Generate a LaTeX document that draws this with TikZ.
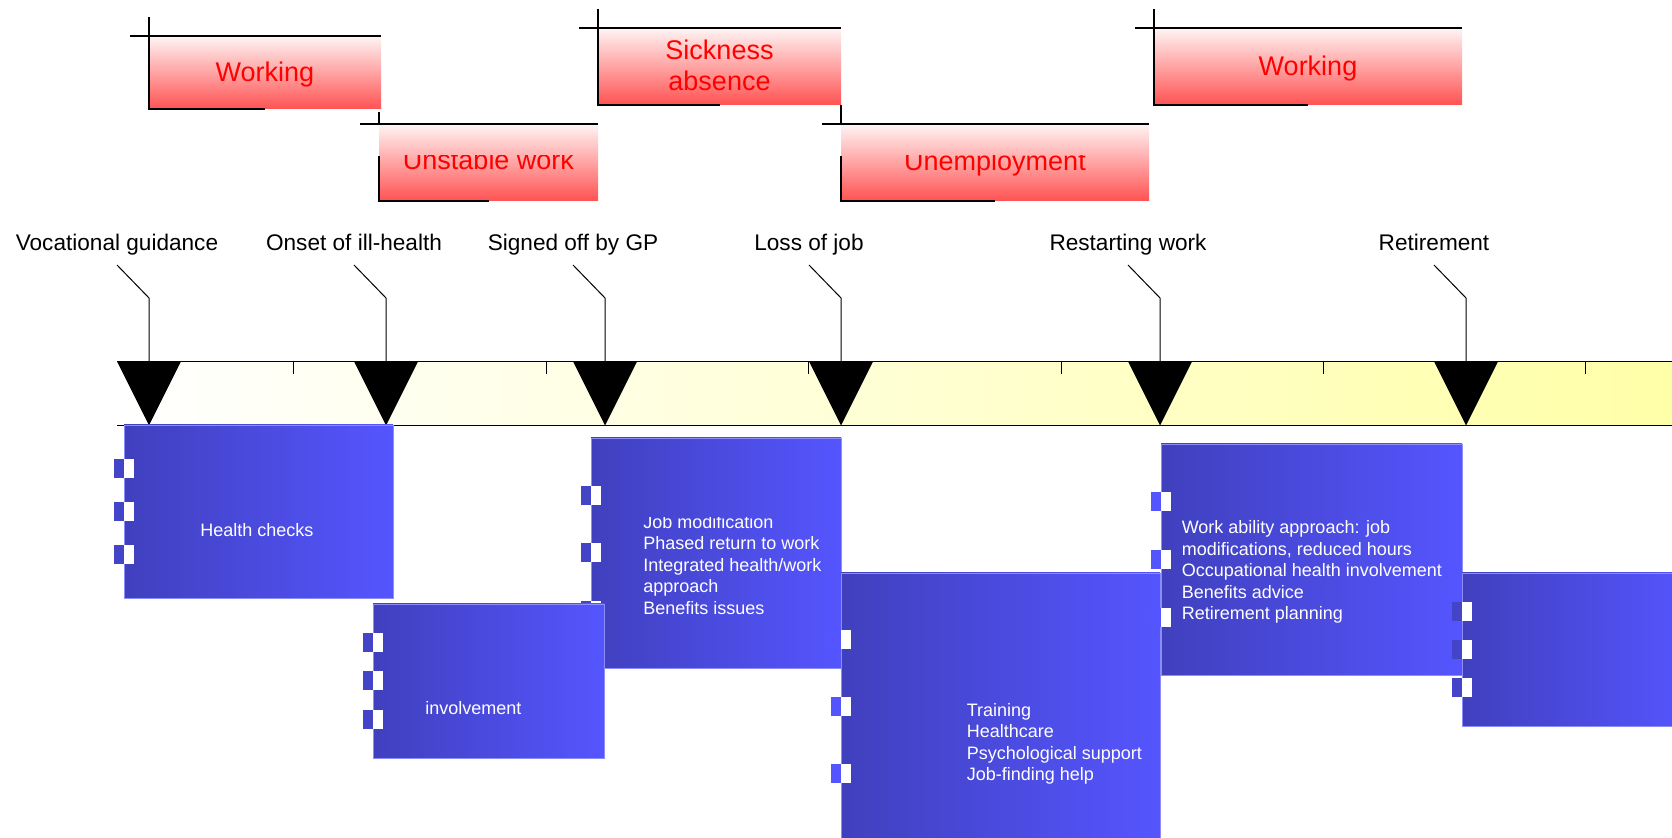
\documentclass[tikz,border=0pt]{standalone}
\usepackage{fontspec}
\setmainfont{Liberation Sans}
\definecolor{pinktop}{RGB}{255,244,244}
\definecolor{pinkbot}{RGB}{255,82,82}
\definecolor{bluel}{RGB}{64,64,190}
\definecolor{bluer}{RGB}{85,85,255}
\definecolor{tabdark}{RGB}{68,68,200}
\definecolor{boxedge}{RGB}{140,140,250}
\definecolor{bandend}{RGB}{255,255,168}

% red phase bar: x1, y1, x2, y2, top of the tick, start of the left rule
\newcommand\phasebox[6]{%
  \shade[top color=pinktop,bottom color=pinkbot] (#1,#2) rectangle (#3,#4);
  \draw[line width=0.75pt] (#1-19,#2) -- (#3,#2);
  \draw[line width=1pt] (#1,#5) -- (#1,#2);
  \draw[line width=1pt] (#1,#6) -- (#1,#4) -- ({(#1+#3)/2},#4);
}
% blue help panel with three tabs on its left side: x1, y1, x2, y2, tab colour
\newcommand\aidbox[5]{%
  \shadedraw[left color=bluel,right color=bluer,draw=boxedge,line width=0.4pt] (#1,#2) rectangle (#3,#4);
  \foreach \k in {1,2,3}{%
    \pgfmathsetmacro\yc{#2+\k*(#4-#2)/4}
    \fill[#5] (#1-10,\yc-9.5) rectangle (#1,\yc+9.5);
    \fill[white] (#1,\yc-9.5) rectangle (#1+9.5,\yc+9.5);
  }%
}

\begin{document}
\begin{tikzpicture}[x=0.5pt,y=-0.5pt,
  evlabel/.style={font=\fontsize{11.3}{13.5}\selectfont,inner sep=0pt,anchor=base},
  phasetext/.style={font=\fontsize{13.5}{15.7}\selectfont,text=red,align=center,inner sep=0pt},
  helptext/.style={font=\fontsize{9}{10.75}\selectfont,text=white,align=left,inner sep=0pt},
  callout/.style={line width=0.5pt},
  tickmark/.style={line width=0.5pt}]
\useasboundingbox (0,0) rectangle (1672,838);
\clip (0,0) rectangle (1672,838);

% ---- phases (red bars) ----
\phasebox{149}{36}{381}{109}{17}{36}
\node[phasetext] (p1) at (265,75) {Working};

\phasebox{598}{28}{841}{105}{9}{28}
\node[phasetext] (p3) at (719.5,65.4) {Sickness\\absence};

\phasebox{1154}{28}{1462}{105}{9}{28}
\node[phasetext] (p5) at (1308,68.2) {Working};

\phasebox{379}{124}{598}{201}{112}{156}
\begin{scope}
  \clip (379,156) rectangle (598,201);
  \node[phasetext] (p2) at (488.5,160.3) {Unstable work};
\end{scope}

\phasebox{841}{124}{1149}{201}{105}{156}
\begin{scope}
  \clip (841,156) rectangle (1149,201);
  \node[phasetext] (p4) at (995,163.2) {Unemployment};
\end{scope}

% ---- time line ----
\shade[left color=white,right color=bandend] (117,361.5) rectangle (1672,425.5);
\draw[line width=0.65pt] (117,361.5) -- (1672,361.5);
\draw[line width=0.65pt] (117,425.5) -- (1672,425.5);
\foreach \x in {293,546,808,1061,1323,1585}
  \draw[tickmark] (\x,361.5) -- (\x,374.5);

\foreach \n/\x in {1/149,2/386,3/605,4/841,5/1160,6/1466}{
  \fill (\x-32,361.5) -- (\x+32,361.5) -- (\x,425.5) -- cycle;
  \coordinate (m\n) at (\x,361.5);
  \coordinate (k\n) at (\x,298);
  \coordinate (e\n) at (\x-32,265);
}

\node[evlabel] (l1) at (117,250.7) {Vocational guidance};
\node[evlabel] (l2) at (354,250.7) {Onset of ill-health};
\node[evlabel] (l3) at (573,250.7) {Signed off by GP};
\node[evlabel] (l4) at (809,250.7) {Loss of job};
\node[evlabel] (l5) at (1128,250.7) {Restarting work};
\node[evlabel] (l6) at (1434,250.7) {Retirement};
\foreach \n in {1,...,6}
  \draw[callout] (m\n) -- (k\n) -- (e\n);

% ---- help panels (blue) ----
\aidbox{124}{425}{393}{598}{tabdark}
\node[helptext] (h1) at (257,530) {Health checks};

\aidbox{591}{438}{841}{668}{tabdark}
\begin{scope}
  \clip (591,518) rectangle (841,668);
  \node[helptext,anchor=north west] (h3) at (643,514.8)
    {Job modification\\Phased return to work\\Integrated health/work\\approach\\Benefits issues};
\end{scope}

\aidbox{373}{604}{604}{758}{tabdark}
\node[helptext,anchor=base west] (h2) at (425,715) {involvement};

\aidbox{841}{573}{1160}{841}{bluer}
\node[helptext,anchor=north west] (h4) at (966.4,703)
  {Training\\Healthcare\\Psychological support\\Job-finding help};

\aidbox{1161}{444}{1462}{675}{bluer}
\node[helptext,anchor=north west] (h5) at (1181.4,520.2)
  {Work ability approach: job\\modifications, reduced hours\\Occupational health involvement\\Benefits advice\\Retirement planning};

\aidbox{1462}{573}{1690}{726}{tabdark}
\end{tikzpicture}
\end{document}
